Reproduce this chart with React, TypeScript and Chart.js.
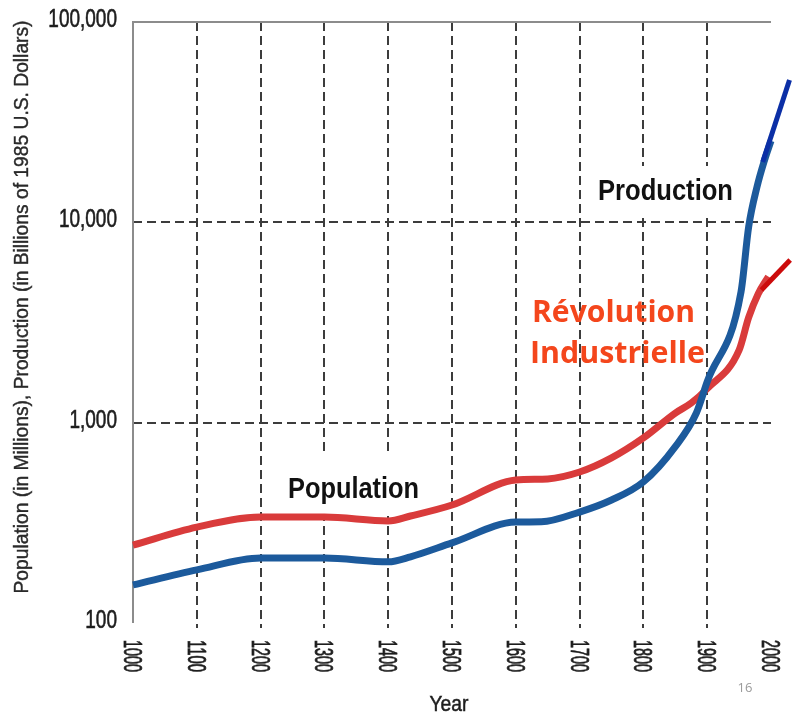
import React, { useEffect, useRef } from "react";
import { Chart, registerables } from "chart.js";

Chart.register(...registerables);

// Axis ticks
const xTicks = [1000, 1100, 1200, 1300, 1400, 1500, 1600, 1700, 1800, 1900, 2000];
const yTicks = [100, 1000, 10000, 100000];
const yGridValues = [1000, 10000];

// Population (millions)
const popYears = [1000, 1100, 1200, 1300, 1400, 1435, 1500, 1600, 1650, 1700, 1750, 1800, 1850, 1875, 1900, 1950, 1965, 1980, 1996];
const popValues = [245, 301, 338, 338, 323, 342, 388, 517, 524, 567, 667, 839, 1117, 1253, 1480, 2300, 3350, 4400, 5360];

// Production (billions of 1985 US dollars)
const prodYears = [1000, 1100, 1200, 1300, 1400, 1435, 1500, 1600, 1640, 1700, 1750, 1800, 1850, 1883, 1900, 1953, 1965, 1978, 1990, 2000];
const prodValues = [155, 184, 211, 211, 202, 214, 251, 319, 320, 358, 411, 506, 759, 1117, 1600, 4500, 9500, 15000, 20500, 25500];

// Projections past 2000
const popExtYears = [1985, 2030];
const popExtValues = [4590, 6490];
const prodExtYears = [1987, 2029];
const prodExtValues = [20000, 51400];

const SANS = '"Liberation Sans", Arial, sans-serif';

type TextOpts = {
  font: string;
  color: string;
  align?: "left" | "right" | "center";
  width?: number;
  sx?: number;
  rotate?: number;
  stroke?: number;
};

function drawText(ctx: CanvasRenderingContext2D, str: string, x: number, y: number, o: TextOpts) {
  ctx.save();
  ctx.translate(x, y);
  if (o.rotate) ctx.rotate(o.rotate);
  ctx.font = o.font;
  ctx.textAlign = "left";
  ctx.textBaseline = "alphabetic";
  const w = ctx.measureText(str).width;
  const s = o.width ? o.width / w : o.sx ?? 1;
  ctx.scale(s, 1);
  const dx = o.align === "right" ? -w : o.align === "center" ? -w / 2 : 0;
  ctx.fillStyle = o.color;
  ctx.fillText(str, dx, 0);
  if (o.stroke) {
    ctx.strokeStyle = o.color;
    ctx.lineWidth = o.stroke;
    ctx.strokeText(str, dx, 0);
  }
  ctx.restore();
}

const zip = (xs: number[], ys: number[]) => xs.map((x, i) => ({ x, y: ys[i] }));

const decor = {
  id: "decor",
  beforeDatasetsDraw(chart: any) {
    const { ctx, chartArea: a, scales } = chart;
    const x = scales.x;
    const y = scales.y;
    ctx.save();
    // dashed grid
    ctx.strokeStyle = "#3c3c3c";
    ctx.lineWidth = 2;
    ctx.setLineDash([9, 5]);
    for (const t of xTicks) {
      if (t === xTicks[0] || t === xTicks[xTicks.length - 1]) continue;
      const px = Math.round(x.getPixelForValue(t));
      ctx.beginPath();
      ctx.moveTo(px, a.top);
      ctx.lineTo(px, a.bottom + 5);
      ctx.stroke();
    }
    for (const v of yGridValues) {
      const py = Math.round(y.getPixelForValue(v));
      ctx.beginPath();
      ctx.moveTo(a.left, py);
      ctx.lineTo(a.right, py);
      ctx.stroke();
    }
    ctx.setLineDash([]);
    // axis frame: left and top
    ctx.strokeStyle = "#8c8c8c";
    ctx.beginPath();
    ctx.moveTo(a.left, a.bottom);
    ctx.lineTo(a.left, a.top);
    ctx.lineTo(a.right, a.top);
    ctx.stroke();
    // white boxes behind series labels
    ctx.fillStyle = "#ffffff";
    ctx.fillRect(594, 166, 144, 50);
    ctx.fillRect(284, 456, 140, 60);
    ctx.restore();
  },
  afterDatasetsDraw(chart: any) {
    const { ctx, chartArea: a, scales } = chart;
    const x = scales.x;
    const y = scales.y;

    // y tick labels
    for (const v of yTicks) {
      const py = y.getPixelForValue(v);
      drawText(ctx, v.toLocaleString("en-US"), 117, py + 5, {
        font: `25px ${SANS}`,
        color: "#1e1e1e",
        align: "right",
        sx: 0.76,
        stroke: 0.6,
      });
    }
    // x tick labels, rotated clockwise
    for (const t of xTicks) {
      const px = x.getPixelForValue(t);
      drawText(ctx, String(t), px - 9, a.bottom + 17, {
        font: `25px ${SANS}`,
        color: "#1e1e1e",
        width: 32,
        rotate: Math.PI / 2,
        stroke: 0.8,
      });
    }
    // axis titles
    drawText(ctx, "Population (in Millions), Production (in Billions of 1985 U.S. Dollars)", 28, 307, {
      font: `20px ${SANS}`,
      color: "#2a2a2a",
      align: "center",
      width: 573,
      rotate: -Math.PI / 2,
      stroke: 0.4,
    });
    drawText(ctx, "Year", (a.left + a.right) / 2 - 3, 711, {
      font: `22px ${SANS}`,
      color: "#1e1e1e",
      align: "center",
      width: 39,
      stroke: 0.5,
    });

    // series labels
    drawText(ctx, "Production", 598, 200, {
      font: `bold 30px ${SANS}`,
      color: "#111",
      width: 135,
    });
    drawText(ctx, "Population", 288, 498, {
      font: `bold 30px ${SANS}`,
      color: "#111",
      width: 131,
    });
    drawText(ctx, "Révolution", 532, 322, {
      font: `bold 30px "Open Sans", ${SANS}`,
      color: "#f4461c",
      width: 163,
    });
    drawText(ctx, "Industrielle", 530, 363, {
      font: `bold 30px "Open Sans", ${SANS}`,
      color: "#f4461c",
      width: 175,
    });
    // page number
    drawText(ctx, "16", 745, 692, {
      font: `13px "Open Sans", ${SANS}`,
      color: "#9a9a9a",
      align: "center",
    });
  },
};

export default function App() {
  const canvasRef = useRef<HTMLCanvasElement | null>(null);

  useEffect(() => {
    const canvas = canvasRef.current;
    if (!canvas) return;
    const line = {
      type: "line" as const,
      pointRadius: 0,
      fill: false,
      clip: false as const,
      borderCapStyle: "butt" as const,
      borderJoinStyle: "round" as const,
    };
    const chart = new Chart(canvas, {
      type: "line",
      data: {
        datasets: [
          {
            ...line,
            label: "Production (projection)",
            data: zip(prodExtYears, prodExtValues),
            borderColor: "#0b2fa6",
            borderWidth: 5,
            tension: 0,
            order: 0,
          },
          {
            ...line,
            label: "Population (projection)",
            data: zip(popExtYears, popExtValues),
            borderColor: "#cc0b0b",
            borderWidth: 5,
            tension: 0,
            order: 0,
          },
          {
            ...line,
            label: "Production",
            data: zip(prodYears, prodValues),
            borderColor: "#1c5a9c",
            borderWidth: 7,
            cubicInterpolationMode: "monotone" as const,
            order: 1,
          },
          {
            ...line,
            label: "Population",
            data: zip(popYears, popValues),
            borderColor: "#d93b3b",
            borderWidth: 7,
            cubicInterpolationMode: "monotone" as const,
            order: 2,
          },
        ],
      },
      options: {
        responsive: false,
        devicePixelRatio: 1,
        animation: false,
        layout: { padding: { left: 133, right: 21, top: 22, bottom: 91 } },
        plugins: { legend: { display: false }, tooltip: { enabled: false } },
        scales: {
          x: { type: "linear", min: 1000, max: 2000, display: false },
          y: { type: "logarithmic", min: 100, max: 100000, display: false },
        },
      },
      plugins: [decor],
    });
    return () => chart.destroy();
  }, []);

  return (
    <div style={{ position: "fixed", left: 0, top: 0, width: 792, height: 714, background: "#fff" }}>
      <canvas ref={canvasRef} width={792} height={714} style={{ display: "block" }} />
    </div>
  );
}
